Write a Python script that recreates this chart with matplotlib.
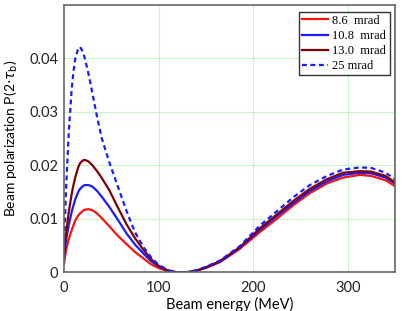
import matplotlib
matplotlib.use("Agg")
import matplotlib.pyplot as plt
import numpy as np

# ---- data ----
energy = [0, 2, 5, 8, 10, 12, 15, 17, 20, 22, 26, 30, 35, 40, 48, 57, 66, 75, 84, 92, 100,
          110, 120, 125, 130, 140, 150, 165, 186, 207, 225, 243, 260, 278, 295, 313, 325, 340, 350]

p_86 = [0.0016, 0.0040, 0.0062, 0.0078, 0.0088, 0.0097, 0.0106, 0.0110, 0.0115, 0.0117, 0.0118, 0.0116, 0.0110, 0.0101, 0.0086, 0.0068, 0.0053, 0.0038, 0.0026, 0.0015, 0.0008,
        0.0002, 0.0000, 0.0000, 0.0000, 0.0003, 0.0008, 0.0019, 0.0044, 0.0075, 0.0100, 0.0126, 0.0148, 0.0166, 0.0177, 0.0182, 0.0180, 0.0172, 0.0161]
p_108 = [0.0029, 0.0058, 0.0088, 0.0112, 0.0125, 0.0137, 0.0150, 0.0156, 0.0161, 0.0163, 0.0163, 0.0160, 0.0152, 0.0141, 0.0122, 0.0098, 0.0073, 0.0052, 0.0035, 0.0021, 0.0011,
         0.0003, 0.0000, 0.0000, 0.0000, 0.0003, 0.0009, 0.0020, 0.0046, 0.0079, 0.0105, 0.0130, 0.0152, 0.0170, 0.0182, 0.0186, 0.0185, 0.0177, 0.0166]
p_130 = [0.0035, 0.0070, 0.0112, 0.0145, 0.0163, 0.0178, 0.0196, 0.0204, 0.0209, 0.0210, 0.0207, 0.0200, 0.0189, 0.0176, 0.0153, 0.0121, 0.0090, 0.0064, 0.0042, 0.0025, 0.0012,
         0.0003, 0.0000, 0.0000, 0.0000, 0.0003, 0.0009, 0.0021, 0.0047, 0.0082, 0.0108, 0.0134, 0.0156, 0.0174, 0.0186, 0.0189, 0.0188, 0.0180, 0.0168]
p_25 = [0.0030, 0.0150, 0.0260, 0.0340, 0.0375, 0.0400, 0.0418, 0.0421, 0.0412, 0.0400, 0.0370, 0.0335, 0.0290, 0.0250, 0.0205, 0.0160, 0.0115, 0.0075, 0.0047, 0.0028, 0.0014,
        0.0004, 0.0000, 0.0000, 0.0000, 0.0004, 0.0010, 0.0022, 0.0049, 0.0087, 0.0114, 0.0141, 0.0163, 0.0180, 0.0192, 0.0196, 0.0195, 0.0186, 0.0174]

labels = ["8.6  mrad", "10.8  mrad", "13.0  mrad", "25 mrad"]
x_ticks = [0, 100, 200, 300]
y_ticks = [0, 0.01, 0.02, 0.03, 0.04]
y_ticklabels = ["0", "0.01", "0.02", "0.03", "0.04"]

plt.rcParams['font.family'] = ['Lato', 'DejaVu Sans']

fig = plt.figure(figsize=(4.07, 3.11), dpi=100)
W, H = 407, 311
ax = fig.add_axes([64 / W, (H - 272.3) / H, (395 - 64) / W, (272.3 - 4.7) / H])

grid_c = '#c6f5c6'
for xv in x_ticks[1:]:
    ax.axvline(xv, color=grid_c, lw=0.8, zorder=0)
for yv in y_ticks[1:]:
    ax.axhline(yv, color=grid_c, lw=0.8, zorder=0)

ax.plot(energy, p_86, color='#ff1010', lw=1.6, label=labels[0])
ax.plot(energy, p_108, color='#1a1aff', lw=1.6, label=labels[1])
ax.plot(energy, p_130, color='#800000', lw=1.6, label=labels[2])
ax.plot(energy, p_25, color='#1a1aff', lw=1.6, ls=(0, (2.2, 1.6)), label=labels[3])

ax.set_xlim(0, 350)
ax.set_ylim(0, 0.05)
ax.set_xticks(x_ticks)
ax.set_xticklabels([str(v) for v in x_ticks])
ax.set_yticks(y_ticks)
ax.set_yticklabels(y_ticklabels)
ax.tick_params(length=0, labelsize=10.5, colors='#222222')
ax.tick_params(axis='x', pad=6)
ax.tick_params(axis='y', pad=4)

for s in ax.spines.values():
    s.set_color('#666666')
    s.set_linewidth(1.2)

ax.set_xlabel("Beam energy (MeV)", fontsize=10.5, labelpad=2)
ax.set_ylabel(r"Beam polarization P(2$\cdot\tau_\mathrm{b}$)", fontsize=10, labelpad=7)

leg = ax.legend(loc='upper right', bbox_to_anchor=(389.5 / W, 1 - 11.7 / H), bbox_transform=fig.transFigure,
                frameon=True, fancybox=False,
                prop={'family': 'Liberation Serif', 'size': 9}, handlelength=2.1,
                borderpad=0.25, labelspacing=0.25, handletextpad=0.35, borderaxespad=0.0)
leg.get_frame().set_edgecolor('black')
leg.get_frame().set_linewidth(1.0)

fig.savefig("out.png", dpi=100)
